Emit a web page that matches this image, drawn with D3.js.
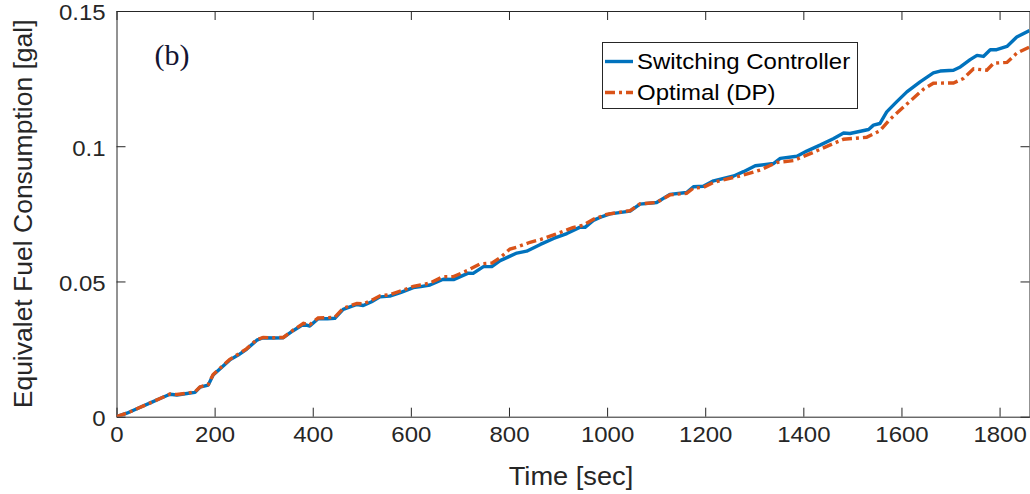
<!DOCTYPE html>
<html>
<head>
<meta charset="utf-8">
<script src="https://cdn.jsdelivr.net/npm/d3@7"></script>
<style>
  body { margin: 0; background: #fff; }
  text { font-family: "Liberation Sans", Arial, sans-serif; }
</style>
</head>
<body>
<svg id="chart"></svg>
<script>
let width = 1030;
let height = 494;
let plotLeft = 116.5, plotRight = 1029.5, plotTop = 11, plotBottom = 416.7;
let blue = "#0072bd";
let orange = "#d95319";
let axisColor = "#262626";
let stretch = 1.09; // source picture is a bit wider than tall

// Switching controller
let tSwitch = [0, 21, 45, 70, 90, 109, 123, 140, 160, 170, 187, 197, 214, 231, 248, 265, 286, 299, 320, 340,
  360, 381, 394, 411, 430, 445, 462, 490, 503, 520, 537, 557, 580, 605, 620, 639, 666, 687, 717, 727,
  748, 765, 782, 800, 816, 836, 864, 891, 918, 945, 955, 972, 990, 1006, 1047, 1067, 1101, 1128, 1162, 1176,
  1196, 1217, 1258, 1278, 1302, 1339, 1353, 1387, 1407, 1434, 1461, 1482, 1495, 1533, 1543, 1556, 1570, 1590, 1611, 1638,
  1665, 1679, 1706, 1720, 1740, 1754, 1767, 1781, 1794, 1815, 1835, 1861];
let fuelSwitch = [0, 0.0013, 0.0032, 0.0052, 0.0068, 0.0083, 0.0080, 0.0085, 0.0090, 0.0109, 0.0117, 0.0154, 0.0182, 0.0210, 0.0228, 0.0249, 0.0283, 0.0292, 0.0291, 0.0292,
  0.0318, 0.0342, 0.0335, 0.0362, 0.0362, 0.0364, 0.0397, 0.0415, 0.0411, 0.0425, 0.0443, 0.0446, 0.0460, 0.0477, 0.0481, 0.0487, 0.0508, 0.0507, 0.0531, 0.0530,
  0.0555, 0.0555, 0.0577, 0.0592, 0.0605, 0.0612, 0.0637, 0.0659, 0.0677, 0.0701, 0.0700, 0.0726, 0.0740, 0.0750, 0.0760, 0.0786, 0.0792, 0.0822, 0.0829, 0.0850,
  0.0852, 0.0872, 0.0890, 0.0906, 0.0928, 0.0936, 0.0955, 0.0963, 0.0982, 0.1004, 0.1028, 0.1049, 0.1047, 0.1062, 0.1078, 0.1084, 0.1127, 0.1164, 0.1201, 0.1238,
  0.1271, 0.1278, 0.1281, 0.1293, 0.1320, 0.1336, 0.1332, 0.1357, 0.1357, 0.1369, 0.1404, 0.1428];

// Optimal (DP)
let tDP = [0, 21, 45, 70, 90, 109, 123, 140, 160, 170, 187, 197, 214, 231, 248, 265, 286, 299, 320, 340,
  360, 381, 394, 411, 430, 445, 462, 490, 503, 520, 537, 557, 580, 605, 620, 639, 666, 687, 717, 741,
  765, 782, 802, 816, 843, 864, 891, 911, 930, 951, 972, 999, 1047, 1067, 1101, 1128, 1162, 1176, 1196, 1217,
  1258, 1271, 1312, 1346, 1380, 1421, 1455, 1482, 1529, 1556, 1577, 1611, 1645, 1665, 1706, 1726, 1747, 1774, 1788, 1815,
  1835, 1861];
let fuelDP = [0, 0.0013, 0.0032, 0.0052, 0.0068, 0.0084, 0.0082, 0.0086, 0.0092, 0.0110, 0.0119, 0.0156, 0.0184, 0.0212, 0.0231, 0.0251, 0.0285, 0.0293, 0.0292, 0.0293,
  0.0320, 0.0345, 0.0340, 0.0365, 0.0366, 0.0368, 0.0401, 0.0419, 0.0417, 0.0430, 0.0447, 0.0451, 0.0465, 0.0482, 0.0487, 0.0494, 0.0518, 0.0518, 0.0542, 0.0565,
  0.0568, 0.0588, 0.0620, 0.0627, 0.0645, 0.0655, 0.0672, 0.0686, 0.0699, 0.0708, 0.0730, 0.0748, 0.0762, 0.0787, 0.0792, 0.0820, 0.0826, 0.0845, 0.0848, 0.0866,
  0.0885, 0.0890, 0.0912, 0.0940, 0.0947, 0.0978, 0.1005, 0.1026, 0.1033, 0.1057, 0.1100, 0.1156, 0.1211, 0.1233, 0.1234, 0.1250, 0.1286, 0.1281, 0.1307, 0.1310,
  0.1344, 0.1367];

let xTicks = [0, 200, 400, 600, 800, 1000, 1200, 1400, 1600, 1800];
let yTicks = [0, 0.05, 0.1, 0.15];
let yTickLabels = ["0", "0.05", "0.1", "0.15"];
let seriesNames = ["Switching Controller", "Optimal (DP)"];

let xax = d3.scaleLinear()
  .domain([0, 1861])
  .range([plotLeft, plotRight]);

let yax = d3.scaleLinear()
  .domain([0, 0.15])
  .range([plotBottom, plotTop]);

let svg = d3.select("#chart")
  .attr("width", width)
  .attr("height", height);

svg.append("rect")
  .attr("width", width)
  .attr("height", height)
  .attr("fill", "#fff");

svg.append("defs").append("clipPath")
  .attr("id", "plotClip")
  .append("rect")
  .attr("x", plotLeft)
  .attr("y", plotTop)
  .attr("width", plotRight - plotLeft)
  .attr("height", plotBottom - plotTop);

// axes, MATLAB style box with ticks pointing inwards
function styleAxis(g) {
  g.select(".domain").attr("stroke", axisColor);
  g.selectAll(".tick line").attr("stroke", axisColor);
  g.selectAll("text")
    .attr("fill", axisColor)
    .attr("font-size", 22)
    .attr("font-family", "Liberation Sans, Arial, sans-serif")
    .attr("transform", `scale(${stretch},1)`);
}

svg.append("g")
  .attr("transform", `translate(0,${plotBottom})`)
  .call(d3.axisBottom(xax).tickValues(xTicks).tickSizeInner(-9).tickSizeOuter(0).tickPadding(10).tickFormat(d3.format("d")))
  .call(styleAxis);

svg.append("g")
  .attr("transform", `translate(0,${plotTop})`)
  .call(d3.axisTop(xax).tickValues(xTicks).tickSizeInner(-9).tickSizeOuter(0).tickFormat(""))
  .call(styleAxis);

svg.append("g")
  .attr("transform", `translate(${plotLeft},0)`)
  .call(d3.axisLeft(yax).tickValues(yTicks).tickSizeInner(-9).tickSizeOuter(0).tickPadding(10)
    .tickFormat((d, i) => yTickLabels[i]))
  .call(styleAxis)
  .call(g => g.selectAll("text").attr("dy", "0.4em"));

svg.append("g")
  .attr("transform", `translate(${plotRight},0)`)
  .call(d3.axisRight(yax).tickValues(yTicks).tickSizeInner(-9).tickSizeOuter(0).tickFormat(""))
  .call(styleAxis);

// lines
let line = d3.line()
  .x(d => xax(d[0]))
  .y(d => yax(d[1]));

let plot = svg.append("g").attr("clip-path", "url(#plotClip)");

plot.append("path")
  .attr("d", line(d3.zip(tSwitch, fuelSwitch)))
  .attr("fill", "none")
  .attr("stroke", blue)
  .attr("stroke-width", 3.4)
  .attr("stroke-linejoin", "round");

plot.append("path")
  .attr("d", line(d3.zip(tDP, fuelDP)))
  .attr("fill", "none")
  .attr("stroke", orange)
  .attr("stroke-width", 3.4)
  .attr("stroke-dasharray", "10,4,3,4");

// axis labels
svg.append("text")
  .text("Time [sec]")
  .attr("transform", `translate(${(plotLeft + plotRight) / 2 - 2},485) scale(${stretch},1)`)
  .attr("text-anchor", "middle")
  .attr("font-size", 25)
  .attr("fill", axisColor);

svg.append("text")
  .text("Equivalet Fuel Consumption [gal]")
  .attr("transform", `translate(32,${(plotTop + plotBottom) / 2}) rotate(-90)`)
  .attr("text-anchor", "middle")
  .attr("font-size", 26.5)
  .attr("fill", axisColor);

// panel tag, serif like the original figure
svg.append("text")
  .text("(b)")
  .attr("x", 172)
  .attr("y", 65)
  .attr("text-anchor", "middle")
  .style("font-family", "'Liberation Serif', 'Times New Roman', serif")
  .attr("font-size", 30)
  .attr("fill", "#141432");

// legend
let legend = svg.append("g");
legend.append("rect")
  .attr("x", 602.5)
  .attr("y", 42.5)
  .attr("width", 255)
  .attr("height", 66)
  .attr("fill", "#fff")
  .attr("stroke", axisColor)
  .attr("stroke-width", 1);

let legendStyles = [
  { color: blue, dash: null },
  { color: orange, dash: "10,4,3,4" }
];

seriesNames.forEach((name, i) => {
  let y = 61.5 + i * 31;
  legend.append("line")
    .attr("x1", 605)
    .attr("x2", 633)
    .attr("y1", y)
    .attr("y2", y)
    .attr("stroke", legendStyles[i].color)
    .attr("stroke-width", 3.4)
    .attr("stroke-dasharray", legendStyles[i].dash);
  legend.append("text")
    .text(name)
    .attr("transform", `translate(637,${y}) scale(${stretch},1)`)
    .attr("dy", "0.35em")
    .attr("font-size", 22)
    .attr("fill", "#000");
});
</script>
</body>
</html>
